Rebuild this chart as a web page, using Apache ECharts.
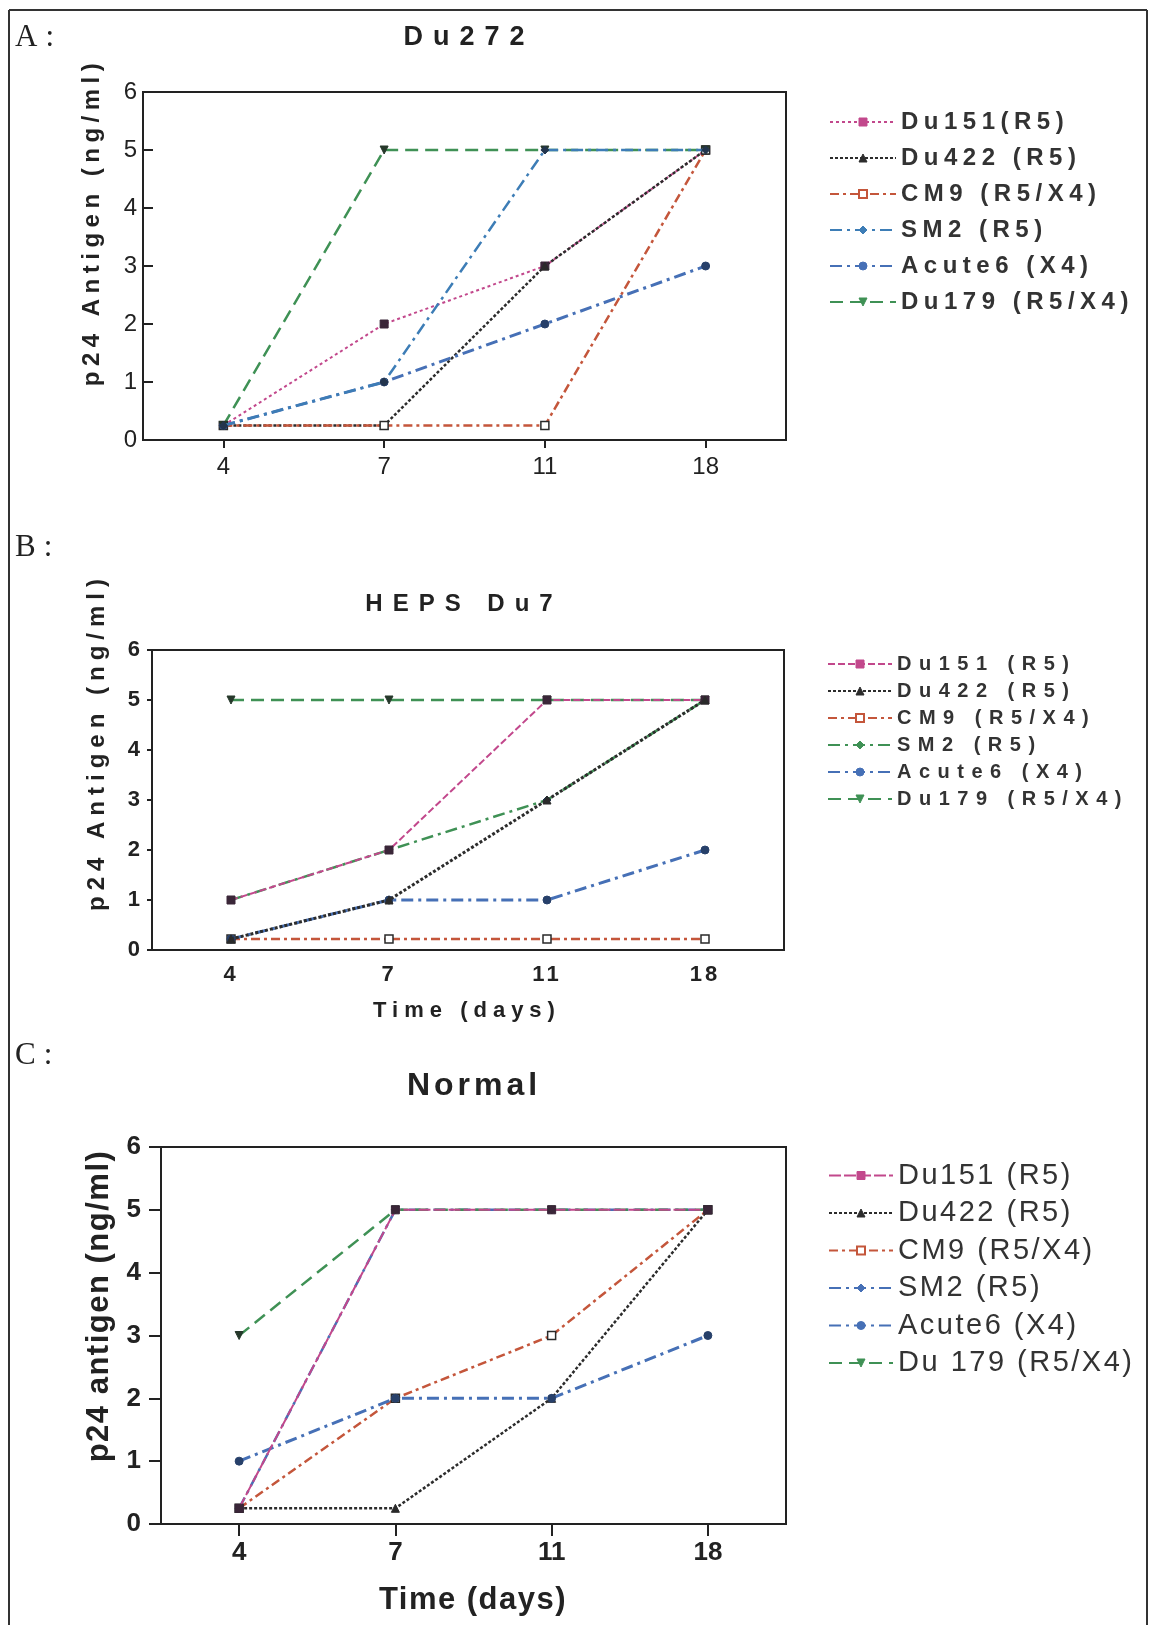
<!DOCTYPE html>
<html>
<head>
<meta charset="utf-8">
<script src="https://cdn.jsdelivr.net/npm/echarts@6/dist/echarts.min.js"></script>
<style>
  html, body { margin: 0; padding: 0; background: #ffffff; }
  #fig { position: relative; width: 1151px; height: 1625px; }
  .panel { position: absolute; left: 0; width: 1151px; }
</style>
</head>
<body>
<div id="fig">
  <div id="panelA" class="panel" style="top:0;height:510px"></div>
  <div id="panelB" class="panel" style="top:510px;height:530px"></div>
  <div id="panelC" class="panel" style="top:1040px;height:585px"></div>
</div>
<script>
// Sampling days (x axis categories)
const days = ['4', '7', '11', '18'];
const yTickMax = 6;
const yTickStep = 1;

// Legend labels of each panel
const namesDu272 = ['Du151(R5)', 'Du422 (R5)', 'CM9 (R5/X4)', 'SM2 (R5)', 'Acute6 (X4)', 'Du179 (R5/X4)'];
const namesDu7 = ['Du151 (R5)', 'Du422 (R5)', 'CM9 (R5/X4)', 'SM2 (R5)', 'Acute6 (X4)', 'Du179 (R5/X4)'];
const namesNormal = ['Du151 (R5)', 'Du422 (R5)', 'CM9 (R5/X4)', 'SM2 (R5)', 'Acute6 (X4)', 'Du 179 (R5/X4)'];

// p24 antigen (ng/ml) on days 4, 7, 11, 18 — Du272 cells
const du272Du151 = [0.25, 2, 3, 5];
const du272Du422 = [0.25, 0.25, 3, 5];
const du272CM9 = [0.25, 0.25, 0.25, 5];
const du272SM2 = [0.25, 1, 5, 5];
const du272Acute6 = [0.25, 1, 2, 3];
const du272Du179 = [0.25, 5, 5, 5];

// HEPS Du7 cells
const du7Du151 = [1, 2, 5, 5];
const du7Du422 = [0.22, 1, 3, 5];
const du7CM9 = [0.22, 0.22, 0.22, 0.22];
const du7SM2 = [1, 2, 3, 5];
const du7Acute6 = [0.22, 1, 1, 2];
const du7Du179 = [5, 5, 5, 5];

// Normal cells
const normalDu151 = [0.25, 5, 5, 5];
const normalDu422 = [0.25, 0.25, 2, 5];
const normalCM9 = [0.25, 2, 3, 5];
const normalSM2 = [0.25, 5, 5, 5];
const normalAcute6 = [1, 2, 2, 3];
const normalDu179 = [3, 5, 5, 5];

// ---- styling -------------------------------------------------------------
const MAGENTA = '#c2488c';
const DARK = '#2c2c2c';
const BRICK = '#c4563b';
const STEEL = '#3d7db6';
const BLUE = '#4670b6';
const GREEN = '#3f9155';
const INK = '#222222';
const NARROW = "'Liberation Sans Narrow', 'Arial Narrow', 'Liberation Sans', Arial, sans-serif";
const SANS = "'Liberation Sans', Arial, sans-serif";
const SERIF = "'Liberation Serif', 'Times New Roman', serif";

function lineStyles(du151Dash, du422Width, sm2Color) {
  return [
    { color: MAGENTA, width: 2, dash: du151Dash, symbol: 'rect', fill: '#3a2638' },
    { color: DARK, width: du422Width, dash: [3, 2], symbol: 'triangle', fill: '#2a2a2a' },
    { color: BRICK, width: 2.5, dash: [9, 4, 3, 4], symbol: 'rect', fill: '#ffffff', border: '#2a2a2a', borderWidth: 1.5, legendFill: '#ffffff' },
    { color: sm2Color, width: 2.5, dash: [12, 5, 3, 5], symbol: 'diamond', fill: '#23354d' },
    { color: BLUE, width: 3, dash: [12, 5, 3, 5], symbol: 'circle', fill: '#27406a' },
    { color: GREEN, width: 2.5, dash: [13, 7], symbol: 'triangle', rotate: 180, fill: '#26382b' }
  ];
}

function panelOption(p) {
  const series = p.values.map(function (vals, i) {
    const s = p.styles[i];
    return {
      name: p.names[i],
      type: 'line',
      data: vals,
      symbol: s.symbol,
      symbolSize: 8,
      symbolRotate: s.rotate || 0,
      z: (p.onTop && p.onTop.indexOf(i) >= 0) ? 3 : 2,
      silent: true,
      lineStyle: { color: s.color, width: s.width, type: s.dash },
      itemStyle: { color: s.fill, borderColor: s.border || s.fill, borderWidth: s.borderWidth || 1 },
      emphasis: { disabled: true }
    };
  });
  const legendData = p.names.map(function (n, i) {
    const s = p.styles[i];
    return {
      name: n,
      itemStyle: { color: s.legendFill || s.color, borderColor: s.color, borderWidth: s.legendFill ? 2 : 1 }
    };
  });
  const graphic = [
    // outer frame of the figure
    { type: 'line', silent: true, shape: { x1: 9, y1: p.frameTop, x2: 9, y2: p.height }, style: { stroke: '#333', lineWidth: 2 } },
    { type: 'line', silent: true, shape: { x1: 1147, y1: p.frameTop, x2: 1147, y2: p.height }, style: { stroke: '#333', lineWidth: 2 } }
  ];
  if (p.frameTop > 0) {
    graphic.push({ type: 'line', silent: true, shape: { x1: 9, y1: p.frameTop, x2: 1147, y2: p.frameTop }, style: { stroke: '#333', lineWidth: 2 } });
  }
  p.texts.forEach(function (t) {
    graphic.push({
      type: 'text', silent: true, zlevel: t.zlevel || 0,
      x: t.x, y: t.y, rotation: t.rotation || 0,
      style: {
        text: t.text, fill: t.color || INK, font: t.font,
        textAlign: t.align || 'center', textVerticalAlign: 'middle'
      }
    });
  });
  return {
    animation: false,
    backgroundColor: 'transparent',
    grid: {
      left: p.grid.left, top: p.grid.top, width: p.grid.width, height: p.grid.height,
      show: true, borderColor: INK, borderWidth: 2, backgroundColor: 'transparent',
      containLabel: false, outerBoundsMode: 'none'
    },
    xAxis: {
      type: 'category', data: days, boundaryGap: true, zlevel: p.axisZ || 0,
      axisLine: { show: true, lineStyle: { color: INK, width: 2 } },
      axisTick: { show: p.xTick > 0, alignWithLabel: true, inside: false, length: p.xTick, lineStyle: { color: INK, width: 2 } },
      axisLabel: { color: INK, fontFamily: NARROW, fontSize: p.tickFont, fontWeight: p.tickWeight, margin: p.xMargin },
      splitLine: { show: false }
    },
    yAxis: {
      type: 'value', min: 0, max: yTickMax, interval: yTickStep, zlevel: p.axisZ || 0,
      axisLine: { show: true, lineStyle: { color: INK, width: 2 } },
      axisTick: { show: true, inside: p.yTickInside, length: p.yTick, lineStyle: { color: INK, width: 2 } },
      axisLabel: { color: INK, fontFamily: NARROW, fontSize: p.tickFont, fontWeight: p.tickWeight, margin: p.yMargin },
      splitLine: { show: false }
    },
    legend: {
      orient: 'vertical', left: p.legend.left, top: p.legend.top, padding: 0,
      itemWidth: p.legend.itemWidth, itemHeight: 10, itemGap: p.legend.gap,
      zlevel: 4, selectedMode: false,
      textStyle: { color: '#333', fontFamily: SANS, fontSize: p.legend.font, fontWeight: p.legend.weight, lineHeight: p.legend.font },
      data: legendData
    },
    graphic: graphic,
    series: series
  };
}

// Spread the glyphs of every text drawn on a given canvas layer
function spaceLayer(chart, zlevel, px) {
  const painter = chart.getZr().painter;
  if (!painter || !painter.getLayer) return;
  const layer = painter.getLayer(zlevel);
  if (layer && layer.ctx && ('letterSpacing' in layer.ctx)) {
    layer.ctx.letterSpacing = px + 'px';
  }
}

function mount(id, opt, spacing) {
  const chart = echarts.init(document.getElementById(id), null, { renderer: 'canvas' });
  Object.keys(spacing).forEach(function (z) { spaceLayer(chart, Number(z), spacing[z]); });
  chart.setOption(opt);
  return chart;
}

// Panel A: Du272
mount('panelA', panelOption({
  height: 510, frameTop: 10,
  names: namesDu272,
  values: [du272Du151, du272Du422, du272CM9, du272SM2, du272Acute6, du272Du179],
  styles: lineStyles([3, 3], 2.5, STEEL),
  onTop: [3],
  grid: { left: 143, top: 92, width: 643, height: 348 },
  xTick: 8, yTick: 10, yTickInside: true,
  tickFont: 24, tickWeight: 'normal', xMargin: 15, yMargin: 6,
  legend: { left: 829, top: 110, itemWidth: 66, gap: 12, font: 24, weight: 'bold' },
  texts: [
    { text: 'A:', x: 15, y: 38, align: 'left', font: '31px ' + SERIF, zlevel: 3 },
    { text: 'Du272', x: 469, y: 38, font: 'bold 27px ' + SANS, zlevel: 2 },
    { text: 'p24 Antigen (ng/ml)', x: 92, y: 222, rotation: Math.PI / 2, font: 'bold 24px ' + SANS, zlevel: 1 }
  ]
}), { 1: 5.5, 2: 10, 3: 8, 4: 5.5 });

// Panel B: HEPS Du7
mount('panelB', panelOption({
  height: 530, frameTop: 0,
  names: namesDu7,
  values: [du7Du151, du7Du422, du7CM9, du7SM2, du7Acute6, du7Du179],
  styles: lineStyles([7, 3], 3, GREEN),
  onTop: [0, 1],
  grid: { left: 152, top: 140, width: 632, height: 300 },
  axisZ: 5,
  xTick: 0, yTick: 5, yTickInside: false,
  tickFont: 22, tickWeight: 'bold', xMargin: 14, yMargin: 9,
  legend: { left: 827, top: 144, itemWidth: 64, gap: 7, font: 20, weight: 'bold' },
  texts: [
    { text: 'B:', x: 15, y: 38, align: 'left', font: '31px ' + SERIF, zlevel: 3 },
    { text: 'HEPS Du7', x: 464, y: 94, font: 'bold 24px ' + SANS, zlevel: 2 },
    { text: 'p24 Antigen (ng/ml)', x: 97, y: 232, rotation: Math.PI / 2, font: 'bold 24px ' + SANS, zlevel: 1 },
    { text: 'Time (days)', x: 467, y: 501, font: 'bold 22px ' + SANS, zlevel: 1 }
  ]
}), { 1: 6, 2: 10, 3: 8, 4: 7.5, 5: 3 });

// Panel C: Normal
mount('panelC', panelOption({
  height: 585, frameTop: 0,
  names: namesNormal,
  values: [normalDu151, normalDu422, normalCM9, normalSM2, normalAcute6, normalDu179],
  styles: lineStyles([12, 3], 2.5, BLUE),
  onTop: [0],
  grid: { left: 161, top: 107, width: 625, height: 377 },
  xTick: 12, yTick: 12, yTickInside: false,
  tickFont: 26, tickWeight: 'bold', xMargin: 16, yMargin: 20,
  legend: { left: 828, top: 121, itemWidth: 64, gap: 8.5, font: 29, weight: 'normal' },
  texts: [
    { text: 'C:', x: 15, y: 16, align: 'left', font: '31px ' + SERIF, zlevel: 3 },
    { text: 'Normal', x: 474, y: 46, font: 'bold 32px ' + SANS, zlevel: 1 },
    { text: 'p24 antigen (ng/ml)', x: 99, y: 266, rotation: Math.PI / 2, font: 'bold 31px ' + SANS, zlevel: 2 },
    { text: 'Time (days)', x: 473, y: 560, font: 'bold 31px ' + SANS, zlevel: 2 }
  ]
}), { 1: 4, 2: 1.5, 3: 8, 4: 2.5 });
</script>
</body>
</html>
